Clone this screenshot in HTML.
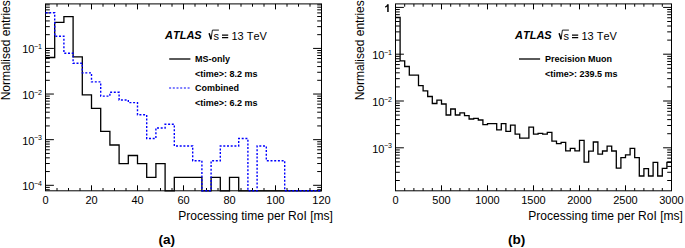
<!DOCTYPE html><html><head><meta charset="utf-8"><style>html,body{margin:0;padding:0;background:#fff;}svg{display:block;} text{font-kerning:none;}</style></head><body>
<svg width="685" height="248" viewBox="0 0 685 248" font-family='"Liberation Sans", sans-serif'>
<rect width="685" height="248" fill="#fff"/>
<rect x="45.5" y="3.9" width="276.0" height="186.9" fill="none" stroke="#000" stroke-width="1.0"/>
<path d="M91.50,190.8V185.3M91.50,3.9V9.4M137.50,190.8V185.3M137.50,3.9V9.4M183.50,190.8V185.3M183.50,3.9V9.4M229.50,190.8V185.3M229.50,3.9V9.4M275.50,190.8V185.3M275.50,3.9V9.4M57.00,190.8V188.0M57.00,3.9V6.699999999999999M68.50,190.8V188.0M68.50,3.9V6.699999999999999M80.00,190.8V188.0M80.00,3.9V6.699999999999999M103.00,190.8V188.0M103.00,3.9V6.699999999999999M114.50,190.8V188.0M114.50,3.9V6.699999999999999M126.00,190.8V188.0M126.00,3.9V6.699999999999999M149.00,190.8V188.0M149.00,3.9V6.699999999999999M160.50,190.8V188.0M160.50,3.9V6.699999999999999M172.00,190.8V188.0M172.00,3.9V6.699999999999999M195.00,190.8V188.0M195.00,3.9V6.699999999999999M206.50,190.8V188.0M206.50,3.9V6.699999999999999M218.00,190.8V188.0M218.00,3.9V6.699999999999999M241.00,190.8V188.0M241.00,3.9V6.699999999999999M252.50,190.8V188.0M252.50,3.9V6.699999999999999M264.00,190.8V188.0M264.00,3.9V6.699999999999999M287.00,190.8V188.0M287.00,3.9V6.699999999999999M298.50,190.8V188.0M298.50,3.9V6.699999999999999M310.00,190.8V188.0M310.00,3.9V6.699999999999999M45.5,185.30H53.9M321.5,185.30H313.1M45.5,139.67H53.9M321.5,139.67H313.1M45.5,94.04H53.9M321.5,94.04H313.1M45.5,48.41H53.9M321.5,48.41H313.1M45.5,189.72H49.8M321.5,189.72H317.2M45.5,187.39H49.8M321.5,187.39H317.2M45.5,171.56H49.8M321.5,171.56H317.2M45.5,163.53H49.8M321.5,163.53H317.2M45.5,157.83H49.8M321.5,157.83H317.2M45.5,153.41H49.8M321.5,153.41H317.2M45.5,149.79H49.8M321.5,149.79H317.2M45.5,146.74H49.8M321.5,146.74H317.2M45.5,144.09H49.8M321.5,144.09H317.2M45.5,141.76H49.8M321.5,141.76H317.2M45.5,125.93H49.8M321.5,125.93H317.2M45.5,117.90H49.8M321.5,117.90H317.2M45.5,112.20H49.8M321.5,112.20H317.2M45.5,107.78H49.8M321.5,107.78H317.2M45.5,104.16H49.8M321.5,104.16H317.2M45.5,101.11H49.8M321.5,101.11H317.2M45.5,98.46H49.8M321.5,98.46H317.2M45.5,96.13H49.8M321.5,96.13H317.2M45.5,80.30H49.8M321.5,80.30H317.2M45.5,72.27H49.8M321.5,72.27H317.2M45.5,66.57H49.8M321.5,66.57H317.2M45.5,62.15H49.8M321.5,62.15H317.2M45.5,58.53H49.8M321.5,58.53H317.2M45.5,55.48H49.8M321.5,55.48H317.2M45.5,52.83H49.8M321.5,52.83H317.2M45.5,50.50H49.8M321.5,50.50H317.2M45.5,34.67H49.8M321.5,34.67H317.2M45.5,26.64H49.8M321.5,26.64H317.2M45.5,20.94H49.8M321.5,20.94H317.2M45.5,16.52H49.8M321.5,16.52H317.2M45.5,12.90H49.8M321.5,12.90H317.2M45.5,9.85H49.8M321.5,9.85H317.2M45.5,7.20H49.8M321.5,7.20H317.2M45.5,4.87H49.8M321.5,4.87H317.2" stroke="#000" stroke-width="1.0" fill="none"/>
<path d="M45.50,57.50L54.70,57.50L54.70,22.40L63.90,22.40L63.90,16.60L73.10,16.60L73.10,56.80L82.30,56.80L82.30,94.80L91.50,94.80L91.50,108.40L100.70,108.40L100.70,131.30L109.90,131.30L109.90,145.00L119.10,145.00L119.10,163.60L128.30,163.60L128.30,155.50L137.50,155.50L137.50,163.60L146.70,163.60L146.70,177.30L155.90,177.30L155.90,163.60L165.10,163.60L165.10,190.80L174.30,190.80L174.30,177.30L183.50,177.30L183.50,177.30L192.70,177.30L192.70,177.30L201.90,177.30L201.90,190.80L211.10,190.80L211.10,177.30L220.30,177.30L220.30,190.80L229.50,190.80L229.50,177.30L238.70,177.30L238.70,190.80L247.90,190.80L247.90,190.80L257.10,190.80L257.10,190.80L266.30,190.80L266.30,190.80L275.50,190.80L275.50,190.80L284.70,190.80L284.70,190.80L293.90,190.80L293.90,190.80L303.10,190.80L303.10,190.80L312.30,190.80L312.30,190.80L321.50,190.80" stroke="#000" stroke-width="1.3" fill="none"/>
<path d="M45.50,12.80L54.70,12.80L54.70,36.30L63.90,36.30L63.90,53.20L73.10,53.20L73.10,63.20L82.30,63.20L82.30,72.90L91.50,72.90L91.50,81.90L100.70,81.90L100.70,96.10L109.90,96.10L109.90,92.30L119.10,92.30L119.10,100.00L128.30,100.00L128.30,102.60L137.50,102.60L137.50,114.80L146.70,114.80L146.70,138.50L155.90,138.50L155.90,128.00L165.10,128.00L165.10,124.30L174.30,124.30L174.30,146.00L183.50,146.00L183.50,146.00L192.70,146.00L192.70,160.70L201.90,160.70L201.90,190.80L211.10,190.80L211.10,160.70L220.30,160.70L220.30,146.00L229.50,146.00L229.50,146.00L238.70,146.00L238.70,138.50L247.90,138.50L247.90,190.80L257.10,190.80L257.10,146.00L266.30,146.00L266.30,160.70L275.50,160.70L275.50,160.70L284.70,160.70L284.70,190.80L293.90,190.80L293.90,190.80L303.10,190.80L303.10,190.80L312.30,190.80L312.30,190.80L321.50,190.80" stroke="#00f" stroke-width="1.4" stroke-dasharray="2 1.7" fill="none"/>
<rect x="395.5" y="3.9" width="276.0" height="186.9" fill="none" stroke="#000" stroke-width="1.0"/>
<path d="M441.50,190.8V185.3M441.50,3.9V9.4M487.50,190.8V185.3M487.50,3.9V9.4M533.50,190.8V185.3M533.50,3.9V9.4M579.50,190.8V185.3M579.50,3.9V9.4M625.50,190.8V185.3M625.50,3.9V9.4M404.70,190.8V188.0M404.70,3.9V6.699999999999999M413.90,190.8V188.0M413.90,3.9V6.699999999999999M423.10,190.8V188.0M423.10,3.9V6.699999999999999M432.30,190.8V188.0M432.30,3.9V6.699999999999999M450.70,190.8V188.0M450.70,3.9V6.699999999999999M459.90,190.8V188.0M459.90,3.9V6.699999999999999M469.10,190.8V188.0M469.10,3.9V6.699999999999999M478.30,190.8V188.0M478.30,3.9V6.699999999999999M496.70,190.8V188.0M496.70,3.9V6.699999999999999M505.90,190.8V188.0M505.90,3.9V6.699999999999999M515.10,190.8V188.0M515.10,3.9V6.699999999999999M524.30,190.8V188.0M524.30,3.9V6.699999999999999M542.70,190.8V188.0M542.70,3.9V6.699999999999999M551.90,190.8V188.0M551.90,3.9V6.699999999999999M561.10,190.8V188.0M561.10,3.9V6.699999999999999M570.30,190.8V188.0M570.30,3.9V6.699999999999999M588.70,190.8V188.0M588.70,3.9V6.699999999999999M597.90,190.8V188.0M597.90,3.9V6.699999999999999M607.10,190.8V188.0M607.10,3.9V6.699999999999999M616.30,190.8V188.0M616.30,3.9V6.699999999999999M634.70,190.8V188.0M634.70,3.9V6.699999999999999M643.90,190.8V188.0M643.90,3.9V6.699999999999999M653.10,190.8V188.0M653.10,3.9V6.699999999999999M662.30,190.8V188.0M662.30,3.9V6.699999999999999M395.5,147.80H403.9M671.5,147.80H663.1M395.5,101.00H403.9M671.5,101.00H663.1M395.5,54.20H403.9M671.5,54.20H663.1M395.5,7.40H403.9M671.5,7.40H663.1M395.5,180.51H399.8M671.5,180.51H667.2M395.5,172.27H399.8M671.5,172.27H667.2M395.5,166.42H399.8M671.5,166.42H667.2M395.5,161.89H399.8M671.5,161.89H667.2M395.5,158.18H399.8M671.5,158.18H667.2M395.5,155.05H399.8M671.5,155.05H667.2M395.5,152.34H399.8M671.5,152.34H667.2M395.5,149.94H399.8M671.5,149.94H667.2M395.5,133.71H399.8M671.5,133.71H667.2M395.5,125.47H399.8M671.5,125.47H667.2M395.5,119.62H399.8M671.5,119.62H667.2M395.5,115.09H399.8M671.5,115.09H667.2M395.5,111.38H399.8M671.5,111.38H667.2M395.5,108.25H399.8M671.5,108.25H667.2M395.5,105.54H399.8M671.5,105.54H667.2M395.5,103.14H399.8M671.5,103.14H667.2M395.5,86.91H399.8M671.5,86.91H667.2M395.5,78.67H399.8M671.5,78.67H667.2M395.5,72.82H399.8M671.5,72.82H667.2M395.5,68.29H399.8M671.5,68.29H667.2M395.5,64.58H399.8M671.5,64.58H667.2M395.5,61.45H399.8M671.5,61.45H667.2M395.5,58.74H399.8M671.5,58.74H667.2M395.5,56.34H399.8M671.5,56.34H667.2M395.5,40.11H399.8M671.5,40.11H667.2M395.5,31.87H399.8M671.5,31.87H667.2M395.5,26.02H399.8M671.5,26.02H667.2M395.5,21.49H399.8M671.5,21.49H667.2M395.5,17.78H399.8M671.5,17.78H667.2M395.5,14.65H399.8M671.5,14.65H667.2M395.5,11.94H399.8M671.5,11.94H667.2M395.5,9.54H399.8M671.5,9.54H667.2" stroke="#000" stroke-width="1.0" fill="none"/>
<path d="M395.50,17.40L400.10,17.40L400.10,60.80L404.70,60.80L404.70,66.50L409.30,66.50L409.30,75.20L413.90,75.20L413.90,75.20L418.50,75.20L418.50,85.60L423.10,85.60L423.10,90.90L427.70,90.90L427.70,96.50L432.30,96.50L432.30,103.50L436.90,103.50L436.90,100.20L441.50,100.20L441.50,104.00L446.10,104.00L446.10,115.00L450.70,115.00L450.70,109.00L455.30,109.00L455.30,115.00L459.90,115.00L459.90,112.80L464.50,112.80L464.50,115.60L469.10,115.60L469.10,119.00L473.70,119.00L473.70,118.40L478.30,118.40L478.30,120.00L482.90,120.00L482.90,124.70L487.50,124.70L487.50,123.70L492.10,123.70L492.10,123.70L496.70,123.70L496.70,129.80L501.30,129.80L501.30,123.70L505.90,123.70L505.90,131.40L510.50,131.40L510.50,125.20L515.10,125.20L515.10,134.10L519.70,134.10L519.70,138.20L524.30,138.20L524.30,138.20L528.90,138.20L528.90,127.10L533.50,127.10L533.50,134.10L538.10,134.10L538.10,133.40L542.70,133.40L542.70,134.10L547.30,134.10L547.30,132.30L551.90,132.30L551.90,141.20L556.50,141.20L556.50,143.60L561.10,143.60L561.10,142.30L565.70,142.30L565.70,150.80L570.30,150.80L570.30,148.40L574.90,148.40L574.90,150.80L579.50,150.80L579.50,140.30L584.10,140.30L584.10,162.10L588.70,162.10L588.70,151.10L593.30,151.10L593.30,142.00L597.90,142.00L597.90,154.20L602.50,154.20L602.50,151.00L607.10,151.00L607.10,146.10L611.70,146.10L611.70,151.00L616.30,151.00L616.30,168.20L620.90,168.20L620.90,157.70L625.50,157.70L625.50,154.80L630.10,154.80L630.10,148.40L634.70,148.40L634.70,157.60L639.30,157.60L639.30,176.00L643.90,176.00L643.90,168.60L648.50,168.60L648.50,176.00L653.10,176.00L653.10,162.40L657.70,162.40L657.70,176.00L662.30,176.00L662.30,168.40L666.90,168.40L666.90,162.40L671.50,162.40" stroke="#000" stroke-width="1.3" fill="none"/>
<text x="45.5" y="204" font-size="11" text-anchor="middle" font-weight="normal" font-style="normal" >0</text>
<text x="91.5" y="204" font-size="11" text-anchor="middle" font-weight="normal" font-style="normal" >20</text>
<text x="137.5" y="204" font-size="11" text-anchor="middle" font-weight="normal" font-style="normal" >40</text>
<text x="183.5" y="204" font-size="11" text-anchor="middle" font-weight="normal" font-style="normal" >60</text>
<text x="229.5" y="204" font-size="11" text-anchor="middle" font-weight="normal" font-style="normal" >80</text>
<text x="275.5" y="204" font-size="11" text-anchor="middle" font-weight="normal" font-style="normal" >100</text>
<text x="321.5" y="204" font-size="11" text-anchor="middle" font-weight="normal" font-style="normal" >120</text>
<text x="395.5" y="204" font-size="11" text-anchor="middle" font-weight="normal" font-style="normal" >0</text>
<text x="441.5" y="204" font-size="11" text-anchor="middle" font-weight="normal" font-style="normal" >500</text>
<text x="487.5" y="204" font-size="11" text-anchor="middle" font-weight="normal" font-style="normal" >1000</text>
<text x="533.5" y="204" font-size="11" text-anchor="middle" font-weight="normal" font-style="normal" >1500</text>
<text x="579.5" y="204" font-size="11" text-anchor="middle" font-weight="normal" font-style="normal" >2000</text>
<text x="625.5" y="204" font-size="11" text-anchor="middle" font-weight="normal" font-style="normal" >2500</text>
<text x="671.5" y="204" font-size="11" text-anchor="middle" font-weight="normal" font-style="normal" >3000</text>
<text x="34.5" y="53.309999999999995" font-size="11" text-anchor="end">10</text><text x="34.0" y="49.01" font-size="7">&#8722;1</text>
<text x="34.5" y="98.94000000000001" font-size="11" text-anchor="end">10</text><text x="34.0" y="94.64" font-size="7">&#8722;2</text>
<text x="34.5" y="144.57000000000002" font-size="11" text-anchor="end">10</text><text x="34.0" y="140.27" font-size="7">&#8722;3</text>
<text x="34.5" y="190.20000000000002" font-size="11" text-anchor="end">10</text><text x="34.0" y="185.9" font-size="7">&#8722;4</text>
<text x="384.5" y="59.099999999999994" font-size="11" text-anchor="end">10</text><text x="384.0" y="54.8" font-size="7">&#8722;1</text>
<text x="384.5" y="105.9" font-size="11" text-anchor="end">10</text><text x="384.0" y="101.6" font-size="7">&#8722;2</text>
<text x="384.5" y="152.7" font-size="11" text-anchor="end">10</text><text x="384.0" y="148.39999999999998" font-size="7">&#8722;3</text>
<path d="M387.2,4.3H388.7V11.9H387.2V6.5Q386.3,7.3 385.0,7.5V6.5Q386.6,6.1 387.2,4.3Z" fill="#000"/>
<text x="178.3" y="219.5" font-size="12.05" text-anchor="start" font-weight="normal" font-style="normal" >Processing time per RoI [ms]</text>
<text transform="translate(10.1,100.3) rotate(-90)" font-size="12">Normalised entries</text>
<text x="528.3" y="219.5" font-size="12.05" text-anchor="start" font-weight="normal" font-style="normal" >Processing time per RoI [ms]</text>
<text transform="translate(364.2,100.3) rotate(-90)" font-size="12">Normalised entries</text>
<text x="165" y="39.2" font-size="11" text-anchor="start" font-weight="bold" font-style="italic" >ATLAS</text>
<path d="M209.1,33.2 L211.0,39.2" stroke="#000" stroke-width="1.5" fill="none"/>
<path d="M211.0,39.4 L212.4,30.1 H218.9" stroke="#000" stroke-width="0.9" fill="none"/>
<text x="213.4" y="39.6" font-size="11" text-anchor="start" font-weight="normal" font-style="normal" >s</text>
<path d="M222,35.1H228.2M222,37.7H228.2" stroke="#000" stroke-width="1.2" fill="none"/>
<text x="231.4" y="39.6" font-size="11" text-anchor="start" font-weight="normal" font-style="normal" >13 TeV</text>
<text x="515" y="39.2" font-size="11" text-anchor="start" font-weight="bold" font-style="italic" >ATLAS</text>
<path d="M559.1,33.2 L561.0,39.2" stroke="#000" stroke-width="1.5" fill="none"/>
<path d="M561.0,39.4 L562.4,30.1 H568.9" stroke="#000" stroke-width="0.9" fill="none"/>
<text x="563.4" y="39.6" font-size="11" text-anchor="start" font-weight="normal" font-style="normal" >s</text>
<path d="M572,35.1H578.2M572,37.7H578.2" stroke="#000" stroke-width="1.2" fill="none"/>
<text x="581.4" y="39.6" font-size="11" text-anchor="start" font-weight="normal" font-style="normal" >13 TeV</text>
<path d="M169.2,59H190.4" stroke="#000" stroke-width="1.3"/>
<text x="195" y="62" font-size="9" text-anchor="start" font-weight="bold" font-style="normal" >MS-only</text>
<text x="195" y="77.0" font-size="9" text-anchor="start" font-weight="bold" font-style="normal" >&lt;time&gt;: 8.2 ms</text>
<path d="M169.1,88H190" stroke="#00f" stroke-width="1.2" stroke-dasharray="2 1.7"/>
<text x="195" y="91.4" font-size="9" text-anchor="start" font-weight="bold" font-style="normal" >Combined</text>
<text x="195" y="106.2" font-size="9" text-anchor="start" font-weight="bold" font-style="normal" >&lt;time&gt;: 6.2 ms</text>
<path d="M519,59H540.1" stroke="#000" stroke-width="1.3"/>
<text x="545" y="62" font-size="9" text-anchor="start" font-weight="bold" font-style="normal" >Precision Muon</text>
<text x="545" y="77.0" font-size="9" text-anchor="start" font-weight="bold" font-style="normal" >&lt;time&gt;: 239.5 ms</text>
<text x="166.7" y="244.3" font-size="13.6" text-anchor="middle" font-weight="bold" font-style="normal" >(a)</text>
<text x="516.7" y="244.3" font-size="13.6" text-anchor="middle" font-weight="bold" font-style="normal" >(b)</text>
</svg></body></html>
